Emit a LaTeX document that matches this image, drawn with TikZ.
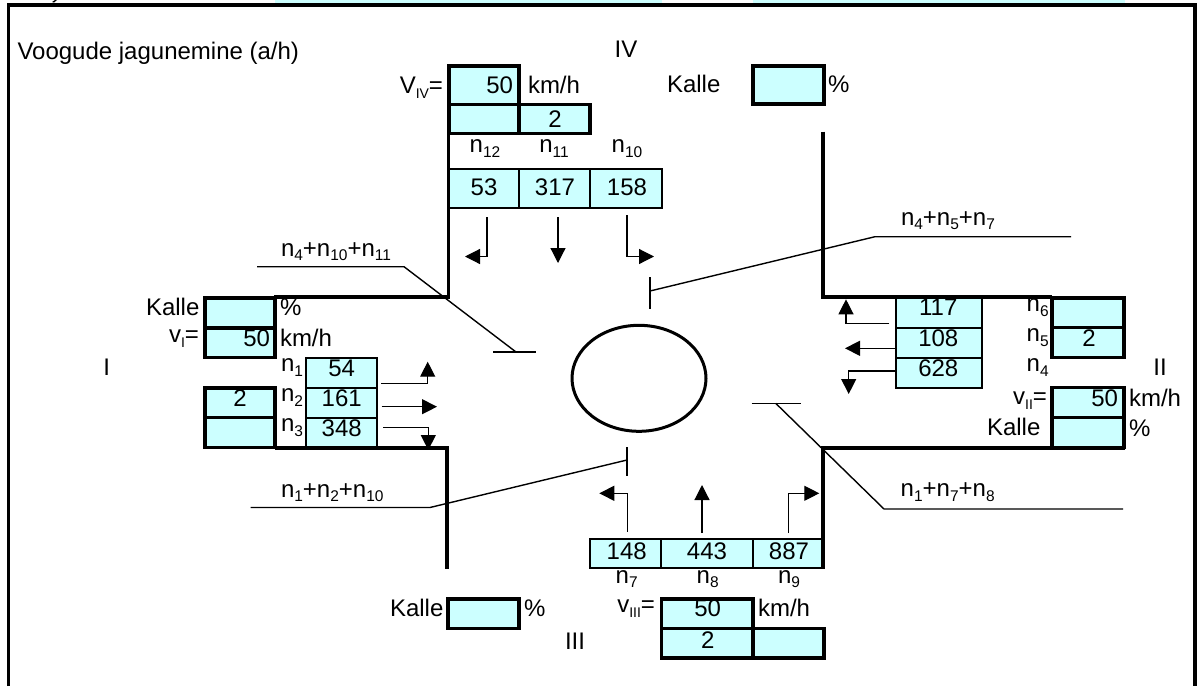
\documentclass[tikz,border=0pt]{standalone}
\usepackage{fontspec}
\setmainfont{Liberation Sans}
\usetikzlibrary{arrows.meta,shapes.geometric}
\definecolor{cellcyan}{HTML}{CCFFFF}
\newcommand{\lab}[2]{#1\raisebox{-0.2em}{\fontsize{15.5}{16}\selectfont #2}}
\newcommand{\rlab}[2]{#1\raisebox{-0.22em}{\fontsize{14}{15}\selectfont #2}}
\tikzset{
  x=1pt,y=-1pt,
  txt/.style={inner sep=0pt,outer sep=0pt,font=\fontsize{24}{26}\selectfont,text=black},
  tw/.style={txt,anchor=base west},
  te/.style={txt,anchor=base east},
  tc/.style={txt,anchor=base},
  thincell/.style={draw=black,fill=cellcyan,line width=1.8pt},
  thickcell/.style={draw=black,fill=cellcyan,line width=3.4pt},
  road/.style={draw=black,line width=3.4pt},
  frameline/.style={draw=black,line width=3.4pt},
  leader/.style={draw=black,line width=1.4pt},
  flow/.style={draw=black,line width=1.2pt,-{Triangle[length=15pt,width=15pt]}},
}
\begin{document}
\begin{tikzpicture}
\useasboundingbox (0,0) rectangle (1197,686);
% top strip and frame
\fill[cellcyan] (275,0) rectangle (662,3.5);
\fill[cellcyan] (753,0) rectangle (1125,3.5);
\fill[black] (52,2) -- (55,0) -- (57,0) -- (54,2.5) -- cycle;
\draw[frameline] (8.5,686) -- (8.5,5) -- (1195,5) -- (1195,686);

% thin cells
\foreach \a/\b in {448/519,519/590,590/662} \draw[thincell] (\a,169) rectangle (\b,208);
\foreach \a/\b in {358/387.7,387.7/417.7,417.7/447} \draw[thincell] (306,\a) rectangle (377,\b);
\foreach \a/\b in {297/327.7,327.7/357.7,357.7/387.7} \draw[thincell] (895.7,\a) rectangle (981.7,\b);
\foreach \a/\b in {590/661,661/752.7,752.7/824} \draw[thincell] (\a,539) rectangle (\b,568);

% thick cells
\draw[thickcell] (449,66) rectangle (519,104.5);
\draw[thickcell] (449,104.5) rectangle (519,133.5);
\draw[thickcell] (519,104.5) rectangle (590,133.5);
\draw[thickcell] (753,66) rectangle (824,104);
\draw[thickcell] (205,298) rectangle (275,328);
\draw[thickcell] (205,328) rectangle (275,357.5);
\draw[thickcell] (205,388) rectangle (275,417.3);
\draw[thickcell] (205,417.3) rectangle (275,447.7);
\draw[thickcell] (1052,298) rectangle (1124,327.7);
\draw[thickcell] (1052,327.7) rectangle (1124,357.3);
\draw[thickcell] (1052,387.7) rectangle (1124,417.3);
\draw[thickcell] (1052,417.3) rectangle (1124,447.7);
\draw[thickcell] (448,599) rectangle (519,628.5);
\draw[thickcell] (661.5,599) rectangle (753,628.5);
\draw[thickcell] (661.5,628.5) rectangle (753,658);
\draw[thickcell] (753,628.5) rectangle (824,658);

% roads
\draw[road] (274,297) -- (448.5,297) -- (448.5,135);
\draw[road] (823,131.5) -- (823,297) -- (1052,297);
\draw[road] (275,448) -- (447,448) -- (447,569);
\draw[road] (1125,448) -- (823,448) -- (823,568);

% junction
\node[draw=black,line width=3pt,ellipse,inner sep=0pt,minimum width=134pt,minimum height=106pt] (junction) at (639,378.3) {};

% leaders with stop bars
\coordinate (neA) at (650,291); \coordinate (neB) at (875,236.7); \coordinate (neC) at (1071,236.7);
\coordinate (neT) at (650,277); \coordinate (neU) at (650,309);
\draw[leader] (neT) -- (neU);
\draw[leader] (neA) -- (neB) -- (neC);
\coordinate (nwA) at (257,266.7); \coordinate (nwB) at (404,266.7); \coordinate (nwC) at (516,352);
\coordinate (nwT) at (493,352); \coordinate (nwU) at (536,352);
\draw[leader] (nwT) -- (nwU);
\draw[leader] (nwA) -- (nwB) -- (nwC);
\coordinate (seA) at (775.7,403.3); \coordinate (seB) at (884,509); \coordinate (seC) at (1123,509);
\coordinate (seT) at (751.7,403.3); \coordinate (seU) at (800.7,403.3);
\draw[leader] (seT) -- (seU);
\draw[leader] (seA) -- (seB) -- (seC);
\coordinate (swA) at (627,460); \coordinate (swB) at (430,507.5); \coordinate (swC) at (250.7,507.5);
\coordinate (swT) at (627,447); \coordinate (swU) at (627,476);
\draw[leader] (swT) -- (swU);
\draw[leader] (swA) -- (swB) -- (swC);

% flow arrows
\coordinate (f1a) at (487,217); \coordinate (f1b) at (487,256.5); \coordinate (f1c) at (465,256.5);
\draw[flow] (f1a) -- (f1b) -- (f1c);
\coordinate (f2a) at (558,217); \coordinate (f2c) at (558,263);
\draw[flow] (f2a) -- (f2c);
\coordinate (f3a) at (627,215); \coordinate (f3b) at (627,256.5); \coordinate (f3c) at (654,256.5);
\draw[flow] (f3a) -- (f3b) -- (f3c);
\coordinate (f4a) at (381,383.3); \coordinate (f4b) at (427.7,383.3); \coordinate (f4c) at (427.7,361.7);
\draw[flow] (f4a) -- (f4b) -- (f4c);
\coordinate (f5a) at (381.7,406.7); \coordinate (f5c) at (437,406.7);
\draw[flow] (f5a) -- (f5c);
\coordinate (f6a) at (383.3,427.7); \coordinate (f6b) at (428.3,427.7); \coordinate (f6c) at (428.3,450);
\draw[flow] (f6a) -- (f6b) -- (f6c);
\coordinate (f7a) at (889.3,323.3); \coordinate (f7b) at (846,323.3); \coordinate (f7c) at (846,299.3);
\draw[flow] (f7a) -- (f7b) -- (f7c);
\coordinate (f8a) at (895,348.3); \coordinate (f8c) at (845,348.3);
\draw[flow] (f8a) -- (f8c);
\coordinate (f9a) at (895,371); \coordinate (f9b) at (848.7,371); \coordinate (f9c) at (848.7,394);
\draw[flow] (f9a) -- (f9b) -- (f9c);
\coordinate (f10a) at (627.7,531.7); \coordinate (f10b) at (627.7,493.3); \coordinate (f10c) at (599.3,493.3);
\draw[flow] (f10a) -- (f10b) -- (f10c);
\coordinate (f11a) at (702,533); \coordinate (f11c) at (702,485);
\draw[flow] (f11a) -- (f11c);
\coordinate (f12a) at (788.7,533); \coordinate (f12b) at (788.7,493.3); \coordinate (f12c) at (819.3,493.3);
\draw[flow] (f12a) -- (f12b) -- (f12c);

% general texts
\node[tw] (title) at (17.5,59) {Voogude jagunemine (a/h)};
\node[tc] (rIV) at (626,57) {IV};
\node[tc] (rI) at (106.7,375) {I};
\node[tc] (rII) at (1160,375) {II};
\node[tc] (rIII) at (575,649) {III};

% arm IV
\node[te] (vIV) at (443,93) {\rlab{V}{IV}=};
\node[te] (vIVval) at (513,93) {50};
\node[tw] (vIVu) at (528,93) {km/h};
\node[tc] (lanesIV) at (555,127) {2};
\node[tw] (kIV) at (667,92) {Kalle};
\node[tw] (kIVp) at (828,92) {\%};
\node[tc] (n12) at (485,152.7) {\lab{n}{12}};
\node[tc] (n11) at (554,152.7) {\lab{n}{11}};
\node[tc] (n10) at (627,152.7) {\lab{n}{10}};
\node[tc] (c53) at (484,195) {53};
\node[tc] (c317) at (555,195) {317};
\node[tc] (c158) at (627,195) {158};

% arm I
\node[tw] (kI) at (146,315) {Kalle};
\node[tw] (kIp) at (280,315) {\%};
\node[te] (vI) at (199,342) {\rlab{v}{I}=};
\node[te] (vIval) at (270,346) {50};
\node[tw] (vIu) at (280,346) {km/h};
\node[tw] (n1) at (281,371.7) {\lab{n}{1}};
\node[tw] (n2) at (281,401.7) {\lab{n}{2}};
\node[tw] (n3) at (281,431.7) {\lab{n}{3}};
\node[tc] (c54) at (341.7,376) {54};
\node[tc] (c161) at (341.7,406) {161};
\node[tc] (c348) at (341.7,436) {348};
\node[tc] (lanesI) at (240,406) {2};

% arm II
\node[tc] (c117) at (938.3,315) {117};
\node[tc] (c108) at (938.3,346) {108};
\node[tc] (c628) at (938.3,376) {628};
\node[tw] (n6) at (1026.7,311.7) {\lab{n}{6}};
\node[tw] (n5) at (1026.7,341.7) {\lab{n}{5}};
\node[tw] (n4) at (1026.7,371.7) {\lab{n}{4}};
\node[tc] (lanesII) at (1089,346) {2};
\node[te] (vII) at (1047,404) {\rlab{v}{II}=};
\node[te] (vIIval) at (1118,406) {50};
\node[tw] (vIIu) at (1129,406) {km/h};
\node[tw] (kII) at (987,435.7) {Kalle};
\node[tw] (kIIp) at (1129,436) {\%};

% arm III
\node[tc] (c148) at (626.7,559) {148};
\node[tc] (c443) at (707,559) {443};
\node[tc] (c887) at (789,559) {887};
\node[tc] (n7) at (626.7,583) {\lab{n}{7}};
\node[tc] (n8) at (707.7,583) {\lab{n}{8}};
\node[tc] (n9) at (789,583) {\lab{n}{9}};
\node[tw] (kIII) at (390,616) {Kalle};
\node[tw] (kIIIp) at (524,616) {\%};
\node[te] (vIII) at (655,612.7) {\rlab{v}{III}=};
\node[tc] (vIIIval) at (707.7,616.7) {50};
\node[tw] (vIIIu) at (758,616.7) {km/h};
\node[tc] (lanesIII) at (707.7,648) {2};

% leader labels
\node[tw] (sumNE) at (901,225) {\lab{n}{4}+\lab{n}{5}+\lab{n}{7}};
\node[tw] (sumNW) at (281,256) {\lab{n}{4}+\lab{n}{10}+\lab{n}{11}};
\node[tw] (sumSE) at (900.7,496.7) {\lab{n}{1}+\lab{n}{7}+\lab{n}{8}};
\node[tw] (sumSW) at (281,497) {\lab{n}{1}+\lab{n}{2}+\lab{n}{10}};
\end{tikzpicture}
\end{document}
